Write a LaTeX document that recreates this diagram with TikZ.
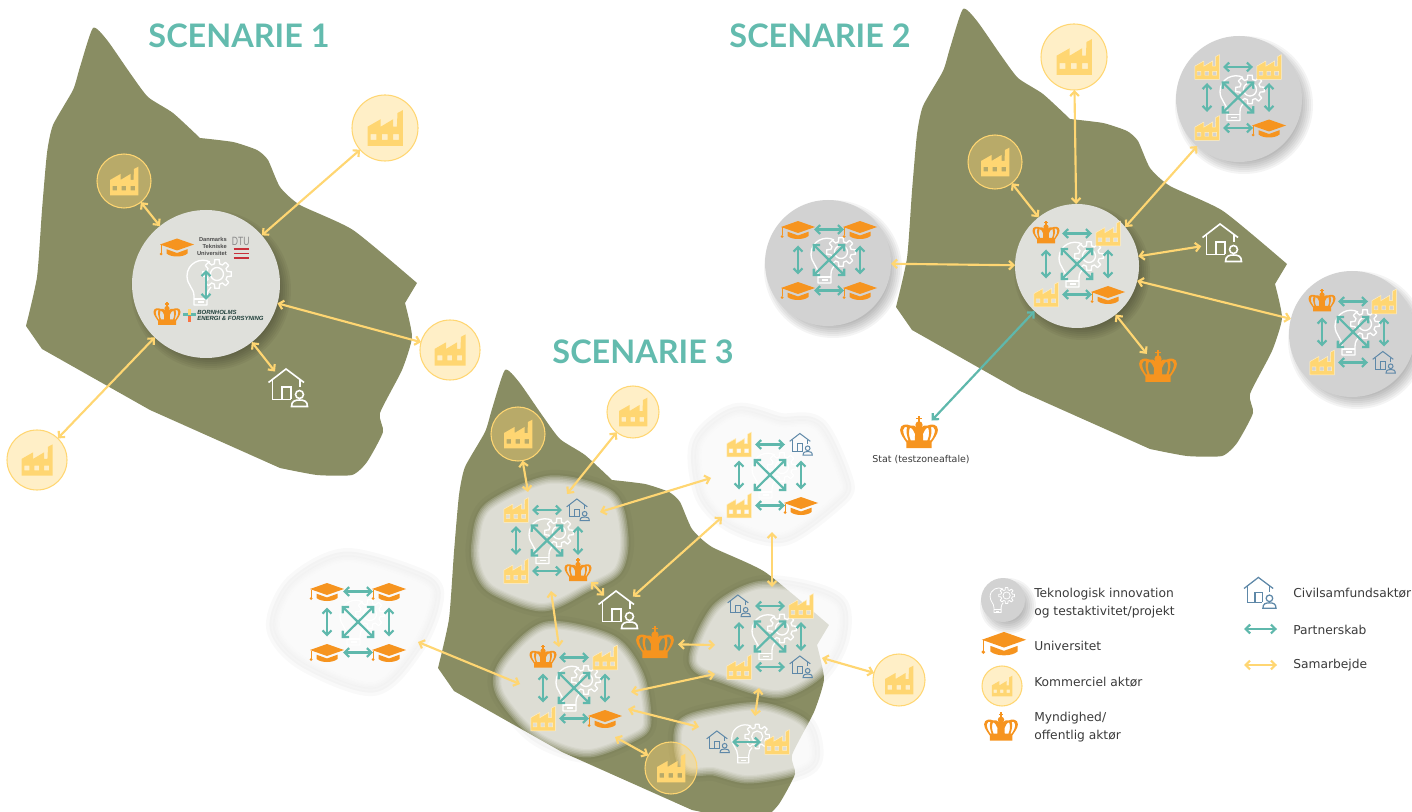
\documentclass[tikz,border=0pt]{standalone}
\usepackage{fontspec}
\setmainfont{DejaVu Sans}
\newfontfamily\titlefont{Lato}
\newfontfamily\logofont{Liberation Sans}
\usetikzlibrary{arrows.meta,calc}
\definecolor{Land}{HTML}{898D63}
\definecolor{HubFill}{HTML}{DFE0DB}
\definecolor{GreyHub}{HTML}{D2D2D2}
\definecolor{Teal}{HTML}{5FB8AC}
\definecolor{Yel}{HTML}{FFD672}
\definecolor{Org}{HTML}{F6941F}
\definecolor{Blu}{HTML}{5E88A8}
\definecolor{TitleC}{HTML}{63BBAE}
\definecolor{TextC}{HTML}{3A3A3A}
\definecolor{DtuRed}{HTML}{C8303A}
\tikzset{
  barbs/.style={arrows={Straight Barb[length=3.4pt,width=6.6pt]-Straight Barb[length=3.4pt,width=6.6pt]}},
  collab/.style={barbs,draw=Yel,line width=1.6pt},
  partner/.style={barbs,draw=Teal,line width=1.65pt},
  ghost/.style={circle,inner sep=0pt,outer sep=0pt,minimum size=#1*1.5pt},
  iconbox/.style={rectangle,inner sep=0pt,outer sep=0pt,minimum size=24pt},
  faccircle/.style={circle,inner sep=0pt,outer sep=0pt,minimum size=#1*.75pt,draw=Yel,line width=.8pt,fill=Yel,fill opacity=.4},
  hubdisc/.style={circle,inner sep=0pt,outer sep=0pt,minimum size=#1*.75pt,fill=HubFill},
  greydisc/.style={circle,inner sep=0pt,outer sep=0pt,minimum size=#1*.75pt,fill=GreyHub},
  titletext/.style={font=\titlefont\bfseries\fontsize{24.3}{28}\selectfont,text=TitleC,inner sep=0pt},
  legendtext/.style={font=\fontsize{9.2}{13.5}\selectfont,text=TextC,anchor=west,align=left,inner sep=0pt},
  pics/factory/.style={code={
    \path[fill=#1,even odd rule,pic actions]
      (-14,14.3)--(-14,-1)--(-3.5,-7)--(-3.5,-1)--(6.5,-7)--(6.5,-1)--(9.5,-1)--(10,-12)--(14.3,-14.3)--(14.3,14.3)--cycle
      (-11.5,5) rectangle (-7,9.5)
      (-2.5,5) rectangle (2,9.5)
      (6.5,5) rectangle (11,9.5);
  }},
  pics/cap/.style={code={
    \fill[#1] (-17,-2.5)--(0,-8.5)--(17,-2.5)--(0,3.5)--cycle;
    \fill[#1] (-10.5,2.2)--(0,6)--(10.5,2.2)--(10.5,6.5) .. controls (6,10.5) and (-6,10.5) .. (-10.5,6.5)--cycle;
    \fill[#1] (-16.4,-2) rectangle (-15.4,6);
    \fill[#1] (-15.9,7) circle[radius=1.5];
  }},
  pics/crown/.style={code={
    \fill[#1,even odd rule]
      (-9,10)--(-9,6) .. controls (-11,3) and (-13.5,0) .. (-13.5,-3)
      .. controls (-13.5,-7) and (-9,-7.5) .. (-6,-6)
      .. controls (-4.5,-6.5) and (-3,-6) .. (-2,-5)--(2,-5)
      .. controls (3,-6) and (4.5,-6.5) .. (6,-6)
      .. controls (9,-7.5) and (13.5,-7) .. (13.5,-3)
      .. controls (13.5,0) and (11,3) .. (9,6)--(9,10)--cycle
      (-8.5,4.5) .. controls (-10.5,2) and (-11.5,-1) .. (-11.3,-3)
      .. controls (-11,-5) and (-9.5,-5.5) .. (-8.5,-5)
      .. controls (-9.5,-2) and (-8.5,2) .. (-7.5,4.5)--cycle
      (-6,4.5) .. controls (-7.5,1) and (-7.5,-2) .. (-6.5,-4.5)
      .. controls (-5,-4.5) and (-3.5,-2) .. (-2.8,0)--(-3,4.5)--cycle
      (8.5,4.5) .. controls (10.5,2) and (11.5,-1) .. (11.3,-3)
      .. controls (11,-5) and (9.5,-5.5) .. (8.5,-5)
      .. controls (9.5,-2) and (8.5,2) .. (7.5,4.5)--cycle
      (6,4.5) .. controls (7.5,1) and (7.5,-2) .. (6.5,-4.5)
      .. controls (5,-4.5) and (3.5,-2) .. (2.8,0)--(3,4.5)--cycle;
    \fill[#1] (0,-6.5) circle[radius=2.6];
    \fill[#1] (-.6,-12.8) rectangle (.6,-8);
    \fill[#1] (-1.9,-11.6) rectangle (1.9,-10.4);
  }},
  pics/house/.style 2 args={code={
    \begin{scope}[draw=#1,line width=#2,line join=miter]
      \draw (-19.5,-5.5)--(-2,-19)--(16,-5.5);
      \draw (12,-8.5)--(12,-1);
      \draw (-15.5,-8)--(-15.5,11.5)--(3,11.5);
      \draw (-6,11.5)--(-6,-1)--(3,-1)--(3,11.5);
      \draw (11.5,6.5) circle[radius=4];
      \draw (3.5,18.5) .. controls (3.5,13) and (7,12) .. (11.5,12)
            .. controls (16,12) and (19.5,13) .. (19.5,18.5)--cycle;
    \end{scope}
  }},
  pics/bulb/.style={code={
    \begin{scope}[draw=white,line width=#1,line join=round]
      \draw (5,-22) .. controls (-4,-27) and (-18,-21) .. (-18,-8)
        .. controls (-18,1) and (-11,4) .. (-11,12)--(-11,21)--(2,21)--(2,12)
        .. controls (2,8) and (4,5) .. (6,3);
      \draw (-11,15)--(2,15);
      \draw (-7,18)--(-1,18);
      \draw[shift={(12,-10)}] (-14:10.5)
        \foreach \a in {0,45,...,315}{--(\a-14:10.5)--(\a-9:14.5)--(\a+9:14.5)--(\a+14:10.5)}--cycle;
      \draw[shift={(12,-10)}] (0,0) circle[radius=6.5];
    \end{scope}
  }},
  pics/gfac/.style={code={\pic[scale=.87,draw=white!60!Yel,line width=.35pt]{factory=Yel};}},
  pics/gcap/.style={code={\pic{cap=Org};}},
  pics/gcro/.style={code={\pic{crown=Org};}},
  pics/ghou/.style={code={\pic[scale=.58]{house={Blu}{.75pt}};}}
}
% the island outline, used three times; sharp corners between smooth runs
\newcommand\island[2]{%
  \fill[Land,shift={(#1,#2)}]
    plot[smooth,tension=.35] coordinates {(26,326) (37,277) (42,210) (47,153) (53,125) (73,90) (80,67) (93,28) (107,40) (130,73) (148,97) (173,113) (200,138)}
    -- plot[smooth,tension=.35] coordinates {(200,138) (233,142) (257,150) (268,160) (280,187) (300,205) (353,230) (417,283)}
    -- plot[smooth,tension=.35] coordinates {(405,303) (412,337) (402,370) (380,413) (383,432) (367,462) (352,475) (317,475) (280,468)}
    -- (150,410) -- (42,349) -- cycle;}
% drop shadow under a disc, soft-edged by stacking
\newcommand\discshadow[3]{%
  \foreach \d in {6,4,2,0,-2,-4,-6}{\fill[black,opacity=.045] (#1+5,#2+6) circle[radius=#3+\d];}}
% soft land patch
\newcommand\softblob[1]{%
  \foreach \w in {28,21,14}{\begin{scope}[transparency group,opacity=.025]\draw[black,fill=black,line width=\w*.75pt,line join=round] plot[smooth cycle,tension=.5] coordinates {#1};\end{scope}}
  \foreach \w in {17,14,11,8,5,2.5,.1}{\begin{scope}[transparency group,opacity=.18]\draw[white,fill=white,line width=\w*.75pt,line join=round] plot[smooth cycle,tension=.5] coordinates {#1};\end{scope}}}
\newcommand\factorydisc[4]{% name, pos, radius, factory scale
  \node[faccircle=2*#3] (#1) at (#2) {}; \pic[scale=#4] at (#1) {factory=Yel};}
% 2x2 grid of actors, all linked
\newcommand\partgrid[6]{%
  \coordinate (#1) at (#2);
  \pic at ($(#1)+(0,2)$) {bulb=1pt};
  \node[iconbox] (#1-tl) at ($(#1)+(-31,-30.5)$) {}; \pic at (#1-tl) {g#3};
  \node[iconbox] (#1-tr) at ($(#1)+(31,-30.5)$) {};  \pic at (#1-tr) {g#4};
  \node[iconbox] (#1-bl) at ($(#1)+(-31,30.5)$) {};  \pic at (#1-bl) {g#5};
  \node[iconbox] (#1-br) at ($(#1)+(31,30.5)$) {};   \pic at (#1-br) {g#6};
  \draw[partner] (#1-tl)--(#1-tr);
  \draw[partner] (#1-bl)--(#1-br);
  \draw[partner] (#1-tl)--(#1-bl);
  \draw[partner] (#1-tr)--(#1-br);
  \draw[partner,shorten <=-1.5pt,shorten >=-1.5pt] (#1-tl)--(#1-br);
  \draw[partner,shorten <=-1.5pt,shorten >=-1.5pt] (#1-bl)--(#1-tr);
}
\begin{document}
\begin{tikzpicture}[x=.75pt,y=-.75pt]
\useasboundingbox (0,0) rectangle (1412,812);
\clip (0,0) rectangle (1412,812);

%% LAND
\island{0}{0}
\island{870}{-19}
\island{412}{342}

%% SOFT PATCHES (scenario 3)
\softblob{(482,568) (480,543) (491,510) (550,484) (608,498) (620,537) (614,568) (585,584) (543,603) (496,587)}
\softblob{(280,627) (297,587) (347,562) (422,584) (429,603) (412,643) (373,682) (307,658)}
\softblob{(737,417) (703,445) (708,493) (735,520) (783,532) (835,495) (839,480) (815,430) (780,427)}
\softblob{(757,590) (718,612) (697,660) (724,675) (777,690) (815,672) (835,640) (835,607) (800,593)}
\softblob{(547,630) (507,665) (504,692) (539,732) (587,749) (634,732) (643,720) (636,677) (610,643)}
\softblob{(684,727) (720,715) (763,711) (802,727) (809,758) (788,769) (747,775) (714,767) (687,765)}

%% SCENARIO TITLES
\node[titletext] (t1) at (239,35.5) {SCENARIE 1};
\node[titletext] (t2) at (820,35.5) {SCENARIE 2};
\node[titletext] (t3) at (643,351.5) {SCENARIE 3};

%% SCENARIO 1
\discshadow{206}{284}{74}
\node[hubdisc=148] (s1hub) at (206,284) {};
\pic at (205,284) {bulb=1pt};
\factorydisc{s1f1}{124,181}{27}{1}
\factorydisc{s1f2}{385,128}{33}{1.25}
\factorydisc{s1f3}{450,350}{30}{1.1}
\factorydisc{s1f4}{37,460}{30}{1.1}
\node[ghost=21] at (288,388) (s1h) {};
\pic at (s1h) {house={white}{1.2pt}};
\draw[collab] (s1hub)--(s1f1);
\draw[collab] (s1hub)--(s1f2);
\draw[collab] (s1hub)--(s1f3);
\draw[collab] (s1hub)--(s1f4);
\draw[collab] (s1hub)--(s1h);
\coordinate (s1a) at (206,270);
\coordinate (s1b) at (206,300);
\draw[partner] (s1a)--(s1b);
\pic at (177,247) {cap=Org};
\pic at (167,315) {crown=Org};
\node[font=\logofont\bfseries\fontsize{4.3}{5}\selectfont,text=black!70,align=right,anchor=east,inner sep=0pt] (dtutext) at (227,246.5) {Danmarks\\Tekniske\\Universitet};
\node[font=\logofont\fontsize{9}{9}\selectfont,text=black!45,inner sep=0pt,transform shape,xscale=.72] (dtu) at (240.7,241) {DTU};
\foreach \yy in {249,253.5,258}{\draw[DtuRed,line width=1.4pt] (233.5,\yy)--(248.5,\yy);}
\fill[Teal] (183,313.5) rectangle (196,316.5);
\fill[Yel] (187.5,309) rectangle (191,315);
\fill[red!45!Org!80] (187.5,316.5) rectangle (191,322);
\node[font=\logofont\bfseries\itshape\fontsize{4.5}{5}\selectfont,text=Teal!35!black,align=left,anchor=west,inner sep=0pt] (bof) at (197,315.5) {BORNHOLMS\\ENERGI \& FORSYNING};

%% SCENARIO 2
\discshadow{1077}{266}{62}
\discshadow{1239}{99}{63}
\discshadow{1352}{334}{63}
\discshadow{828}{263}{63}
\node[hubdisc=124] (s2hub) at (1077,266) {};
\node[greydisc=126] (g1) at (1239,99) {};
\node[greydisc=126] (g2) at (1352,334) {};
\node[greydisc=126] (g3) at (828,263) {};
\partgrid{s2}{1077,264}{cro}{fac}{fac}{cap}
\partgrid{s2a}{1238,97.5}{fac}{fac}{fac}{cap}
\partgrid{s2b}{1353,332}{cro}{fac}{fac}{hou}
\partgrid{s2c}{829,260}{cap}{cap}{cap}{cap}
\factorydisc{s2f1}{995,162}{27}{1}
\factorydisc{s2f2}{1074,57}{33}{1.25}
\node[ghost=21] at (1222,243) (s2h) {};
\pic at (s2h) {house={white}{1.2pt}};
\node[ghost=18] at (1158,368) (s2cr) {};
\pic[scale=1.4] at (s2cr) {crown=Org};
\draw[collab] (s2hub)--(s2f1);
\draw[collab] (s2hub)--(s2f2);
\draw[collab] (s2hub.39)--(g1);
\draw[collab] (s2hub)--(g3);
\draw[collab] (s2hub)--(s2h);
\draw[collab] (s2hub)--(g2);
\draw[collab] (s2hub)--(s2cr);
\node[ghost=18.5] at (919,434) (stat) {};
\pic[scale=1.4] at (stat) {crown=Org};
\draw[partner] (s2hub)--(stat);
\node[font=\fontsize{7.1}{8}\selectfont,text=TextC,inner sep=0pt] (stattext) at (921,460) {Stat (testzoneaftale)};

%% SCENARIO 3
\partgrid{A}{547,540.5}{fac}{hou}{fac}{cro}
\partgrid{B}{770,475}{fac}{hou}{fac}{cap}
\partgrid{C}{770,636.5}{hou}{fac}{fac}{hou}
\partgrid{D}{574,688}{cro}{fac}{fac}{cap}
\partgrid{E}{358,622}{cap}{cap}{cap}{cap}
% scenario 3, last patch: a single pair of actors over a bulb
\pic[scale=.85] at (747,745) {bulb=.9pt};
\node[iconbox,minimum size=21pt] (F-l) at (718,742) {}; \pic at (F-l) {ghou};
\node[iconbox] (F-r) at (777,742) {}; \pic at (F-r) {gfac};
\draw[partner] (F-l)--(F-r);
\factorydisc{s3f1}{518,434}{27}{1}
\factorydisc{s3f2}{633,412}{26}{1}
\factorydisc{s3f3}{899,680}{26}{1}
\factorydisc{s3f4}{671,768}{26}{1}
\node[ghost=20] at (618,610) (s3h) {};
\pic at (s3h) {house={white}{1.2pt}};
\node[ghost=23] at (655,644) (s3cr) {};
\pic[scale=1.4] at (s3cr) {crown=Org};
% free ends on the soft patches
\coordinate (pa) at (528,492);
\coordinate (pb) at (567,494);
\coordinate (pc1) at (600,512);
\coordinate (pc2) at (711,478);
\coordinate (pd) at (722,517);
\coordinate (pe1) at (772,532);
\coordinate (pe2) at (772,587);
\coordinate (pf) at (591,582);
\coordinate (pg1) at (551,591);
\coordinate (pg2) at (559,647);
\coordinate (ph) at (715,645);
\coordinate (pi1) at (631,692);
\coordinate (pi2) at (715,674);
\coordinate (pj1) at (628,709);
\coordinate (pj2) at (699,727);
\coordinate (pk1) at (759,688);
\coordinate (pk2) at (755,716);
\coordinate (pl) at (615,737);
\coordinate (pm1) at (418,642);
\coordinate (pm2) at (520,684);
\coordinate (pn) at (822,658);
\draw[collab] (s3f1)--(pa);
\draw[collab] (s3f2)--(pb);
\draw[collab] (pc1)--(pc2);
\draw[collab] (pd)--(s3h);
\draw[collab] (pe1)--(pe2);
\draw[collab] (pf)--(s3h);
\draw[collab] (pg1)--(pg2);
\draw[collab] (s3cr)--(ph);
\draw[collab] (pi1)--(pi2);
\draw[collab] (pj1)--(pj2);
\draw[collab] (pk1)--(pk2);
\draw[collab] (pl)--(s3f4);
\draw[collab] (pm1)--(pm2);
\draw[collab] (pn)--(s3f3);

%% LEGEND
\discshadow{1003}{600}{22}
\node[greydisc=44] (l1) at (1003,600) {};
\pic[scale=.55] at (1000,601) {bulb=.6pt};
\pic[scale=1.3] at (1004,643) {cap=Org};
\factorydisc{l3}{1002,686}{20}{.72}
\pic[scale=1.25] at (1001,728) {crown=Org};
\pic[scale=.82] at (1260,593) {house={Blu}{.95pt}};
\node[legendtext] (lt1) at (1034,603) {Teknologisk innovation\\og testaktivitet/projekt};
\node[legendtext] (lt2) at (1034,646) {Universitet};
\node[legendtext] (lt3) at (1034,682) {Kommerciel aktør};
\node[legendtext] (lt4) at (1034,727.5) {Myndighed/\\offentlig aktør};
\node[legendtext] (lt5) at (1293,593) {Civilsamfundsaktør};
\node[legendtext] (lt6) at (1293,630) {Partnerskab};
\node[legendtext] (lt7) at (1293,665) {Samarbejde};
\coordinate (lp1) at (1244,629);
\coordinate (lp2) at (1277,629);
\coordinate (lc1) at (1244,665);
\coordinate (lc2) at (1277,665);
\draw[partner] (lp1)--(lp2);
\draw[collab] (lc1)--(lc2);
\end{tikzpicture}
\end{document}
